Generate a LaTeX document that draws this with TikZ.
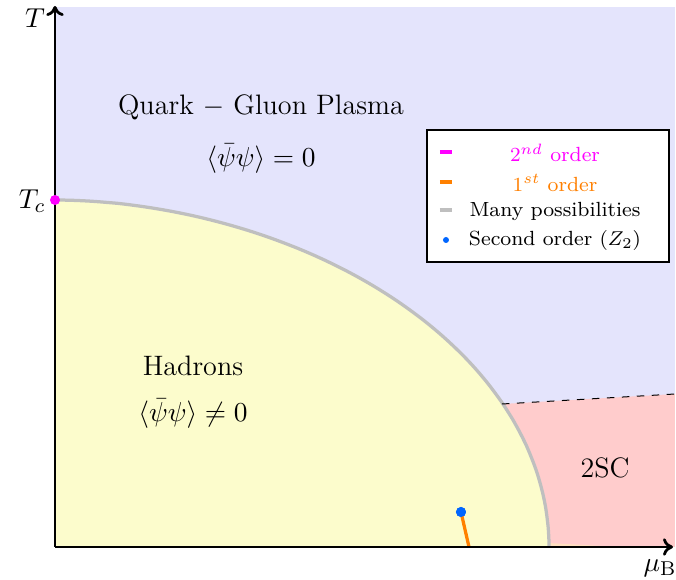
\documentclass[tikz,border=0pt]{standalone}
\usetikzlibrary{arrows.meta}
\definecolor{bgblue}{RGB}{228,228,252}
\definecolor{hadyellow}{RGB}{252,252,204}
\definecolor{scpink}{RGB}{255,204,204}
\definecolor{dotblue}{RGB}{0,102,255}
\definecolor{mag}{RGB}{255,0,255}
\definecolor{orng}{RGB}{255,128,0}
\definecolor{lgray}{RGB}{191,191,191}
\begin{document}
\begin{tikzpicture}[x=0.4pt,y=-0.4pt,
  axis/.style={line width=1.1pt,-{To[length=4pt,width=7pt]}},
  lbl/.style={inner sep=0pt,font=\fontsize{11.25}{13.5}\selectfont},
  legtext/.style={inner sep=0pt,font=\fontsize{8.2}{10}\selectfont},
  dotm/.style={circle,inner sep=0pt,minimum size=4pt},
  boundary/.style={lgray,line width=1.3pt},
  legline/.style={line width=1.3pt}]
\useasboundingbox (0,0) rectangle (676,580);
% regions
\fill[bgblue] (55,7) rectangle (675,547);
\coordinate (dl) at (502,404);
\coordinate (dr) at (675,394);
\fill[scpink] (480,405.3) -- (dr) -- (675,547) -- (480,547) -- cycle;
\fill[orng!25] (548,547) -- (548,543) -- (620,547) -- cycle;
\fill[hadyellow] (55,547) -- plot[domain=90:0,samples=80,smooth,variable=\t]
  ({55+494*abs(cos(\t))^1.0526},{547-347*sin(\t)}) -- cycle;
\draw[boundary] plot[domain=90:0,samples=80,smooth,variable=\t]
  ({55+494*abs(cos(\t))^1.0526},{547-347*sin(\t)});
\draw[dashed,line width=0.4pt] (dl) -- (dr);
% first order line and endpoint
\node[dotm,fill=dotblue] (cep) at (461,512) {};
\coordinate (fo) at (469,547);
\draw[orng,line width=1.3pt] (cep.center) -- (fo);
\node[dotm,fill=dotblue] at (461,512) {};
% axes
\coordinate (O) at (55,547);
\coordinate (xe) at (673,547);
\coordinate (ye) at (55,6);
\draw[axis] (O) -- (xe);
\draw[axis] (O) -- (ye);
\node[dotm,fill=mag] (tc) at (55,200) {};
% labels
\node[lbl] (T) at (35,18) {$T$};
\node[lbl] (Tc) at (32,201) {$T_c$};
\node[lbl] (mu) at (660,568) {$\mu_{\mathrm{B}}$};
\node[lbl] (qgp) at (261,107) {Quark $-$ Gluon Plasma};
\node[lbl] (qgpc) at (261,159) {$\langle\bar\psi\psi\rangle=0$};
\node[lbl] (had) at (193,366) {Hadrons};
\node[lbl] (hadc) at (193,414) {$\langle\bar\psi\psi\rangle\neq0$};
\node[lbl] (sc) at (605,468) {2SC};
% legend
\node[draw=black,fill=white,line width=0.5pt,minimum width=242*0.4pt,minimum height=132*0.4pt,inner sep=0pt] (leg) at (548,196) {};
\draw[legline,mag] (440,152) -- (452,152);
\draw[legline,orng] (440,182) -- (452,182);
\draw[legline,lgray] (440,210) -- (452,210);
\fill[dotblue] (446,240) circle (1.2pt);
\node[legtext,text=mag] (l1) at (555,153) {$2^{nd}$ order};
\node[legtext,text=orng] (l2) at (555,183) {$1^{st}$ order};
\node[legtext] (l3) at (555,211) {Many possibilities};
\node[legtext] (l4) at (555,241) {Second order $(Z_2)$};
\end{tikzpicture}
\end{document}
